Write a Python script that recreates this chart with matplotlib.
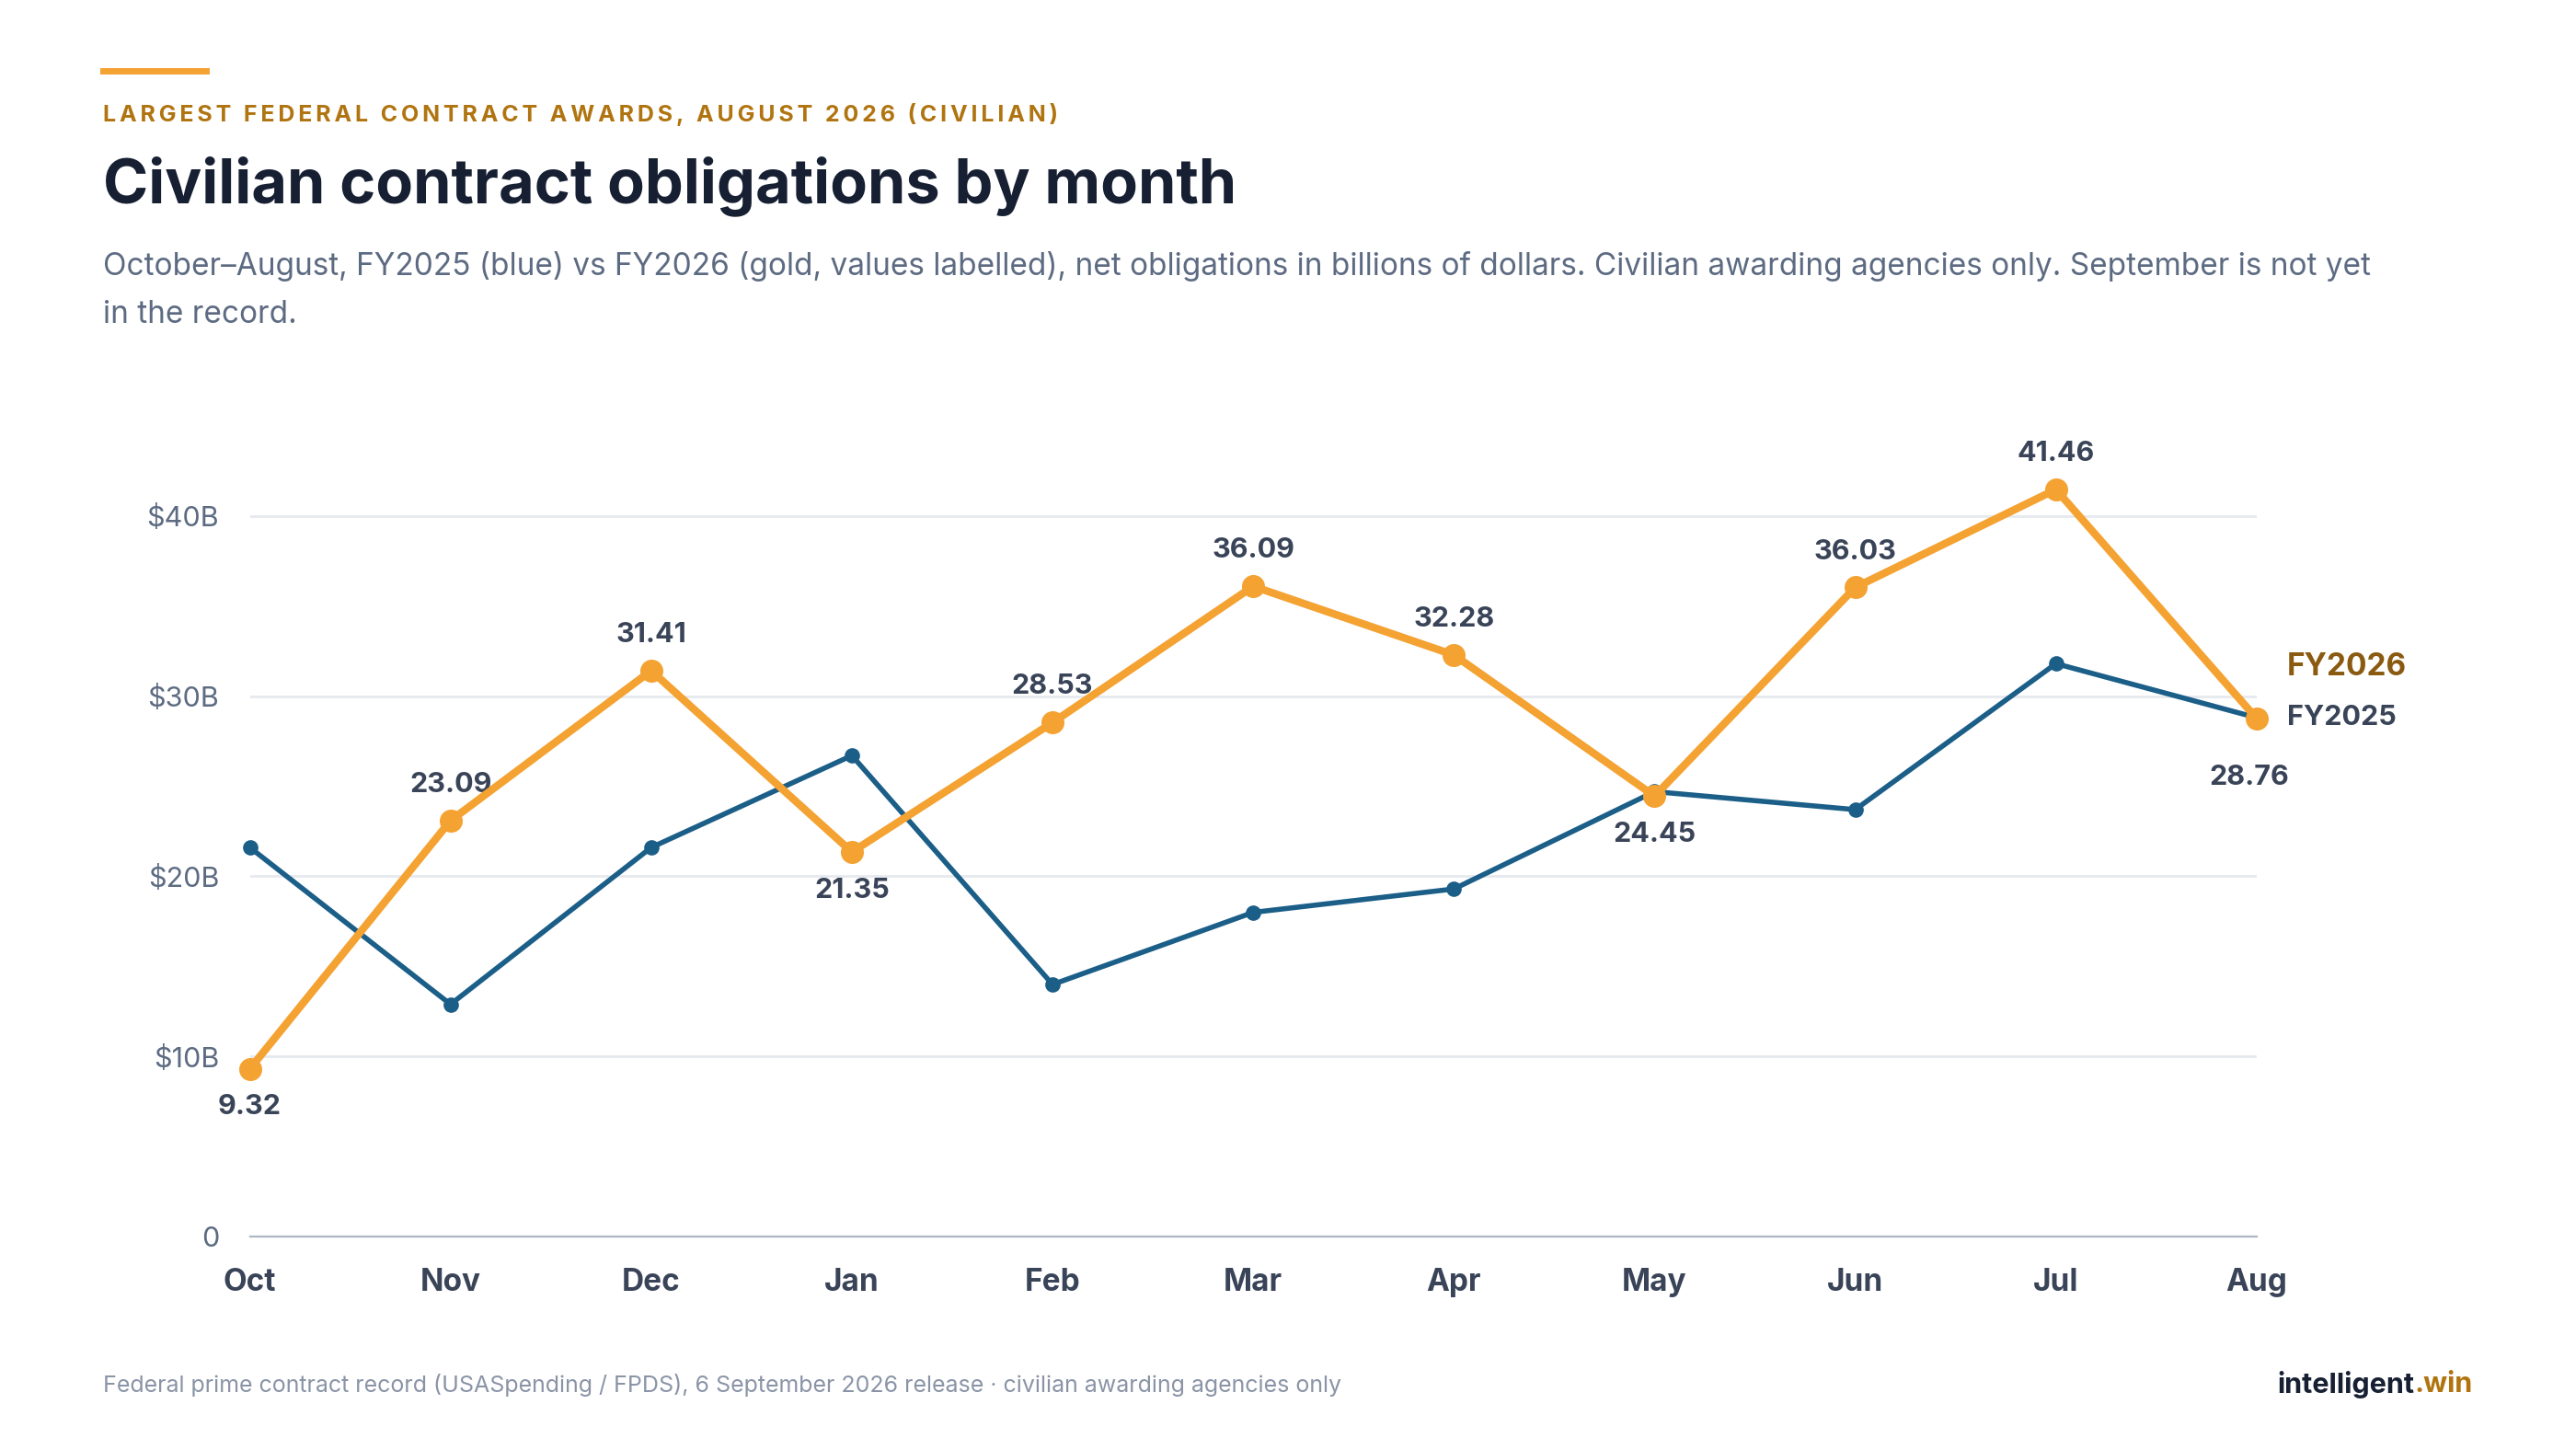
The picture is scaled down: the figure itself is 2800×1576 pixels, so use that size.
import matplotlib.pyplot as plt
import numpy as np

months = ["Oct", "Nov", "Dec", "Jan", "Feb", "Mar", "Apr", "May", "Jun", "Jul", "Aug"]
fy2025 = [21.6, 12.9, 21.6, 26.7, 14.0, 18.0, 19.3, 24.7, 23.7, 31.8, 28.8]
fy2026 = [9.32, 23.09, 31.41, 21.35, 28.53, 36.09, 32.28, 24.45, 36.03, 41.46, 28.76]
# label above (+1) or below (-1) the point
label_side = [-1, 1, 1, -1, 1, 1, 1, -1, 1, 1, -1]
yticks = [0, 10, 20, 30, 40]
ytick_labels = ["0", "$10B", "$20B", "$30B", "$40B"]

BLUE = "#1b5e88"
GOLD = "#f4a232"
DARK = "#172033"
GREY = "#5d6b82"

plt.rcParams['font.family'] = ['Inter', 'DejaVu Sans']


def spaced(s):
    return "\u2009".join(s)


def main():
    fig = plt.figure(figsize=(14, 7.88), dpi=200)
    fig.patch.set_facecolor("white")

    fig.add_artist(plt.Line2D([0.040, 0.080], [0.951, 0.951], color=GOLD, lw=2.5,
                              transform=fig.transFigure))
    fig.text(0.040, 0.921, spaced("LARGEST FEDERAL CONTRACT AWARDS, AUGUST 2026 (CIVILIAN)"),
             color="#b07410", fontsize=9, fontweight="bold", va="center")
    fig.text(0.040, 0.872, "Civilian contract obligations by month", color=DARK,
             fontsize=24, fontweight="bold", va="center")
    fig.text(0.040, 0.816, "October\u2013August, FY2025 (blue) vs FY2026 (gold, values labelled), "
             "net obligations in billions of dollars. Civilian awarding agencies only. September is not yet",
             color=GREY, fontsize=12, va="center")
    fig.text(0.040, 0.783, "in the record.", color=GREY, fontsize=12, va="center")
    fig.text(0.040, 0.045, "Federal prime contract record (USASpending / FPDS), 6 September 2026 release "
             "\u00b7 civilian awarding agencies only", color="#8a94a6", fontsize=9, va="center")
    win = fig.text(0.960, 0.045, ".win", color="#b07410", fontsize=11, fontweight="bold",
                   va="center", ha="right")
    fig.canvas.draw()
    bb = win.get_window_extent().transformed(fig.transFigure.inverted())
    fig.text(bb.x0, 0.045, "intelligent", color=DARK, fontsize=11, fontweight="bold",
             va="center", ha="right")

    ax = fig.add_axes([0.097, 0.147, 0.779, 0.547])
    x = np.arange(len(months))
    ax.plot(x, fy2025, color=BLUE, lw=2, marker="o", ms=5, zorder=3, clip_on=False)
    ax.plot(x, fy2026, color=GOLD, lw=3, marker="o", ms=8, zorder=4, clip_on=False)
    for i, v in enumerate(fy2026):
        off = 14 if label_side[i] > 0 else -15
        dx = 0
        if i == len(fy2026) - 1:
            off, dx = -23, -3
        ax.annotate(f"{v:.2f}", (x[i], v), xytext=(dx, off), textcoords="offset points",
                    ha="center", va="center", fontsize=11, fontweight="bold", color="#3a4458")
    ax.annotate("FY2026", (x[-1], fy2026[-1]), xytext=(12, 20), textcoords="offset points",
                ha="left", va="center", fontsize=12, fontweight="bold", color="#8a5a10")
    ax.annotate("FY2025", (x[-1], fy2025[-1]), xytext=(12, 0), textcoords="offset points",
                ha="left", va="center", fontsize=11, fontweight="bold", color="#3a4458")

    ax.set_xlim(0, len(months) - 1)
    ax.set_ylim(0, 44)
    ax.set_xticks(x)
    ax.set_xticklabels(months, fontsize=12, fontweight="bold", color="#3a4458")
    ax.set_yticks(yticks)
    ax.set_yticklabels(ytick_labels, fontsize=11, color=GREY)
    ax.tick_params(length=0, pad=12)
    ax.grid(axis="y", color="#e6e9ee", lw=1)
    for s in ["top", "right", "left"]:
        ax.spines[s].set_visible(False)
    ax.spines["bottom"].set_color("#aeb6c4")
    ax.set_axisbelow(True)

    fig.savefig("out.png", dpi=200)


if __name__ == '__main__':
    main()
